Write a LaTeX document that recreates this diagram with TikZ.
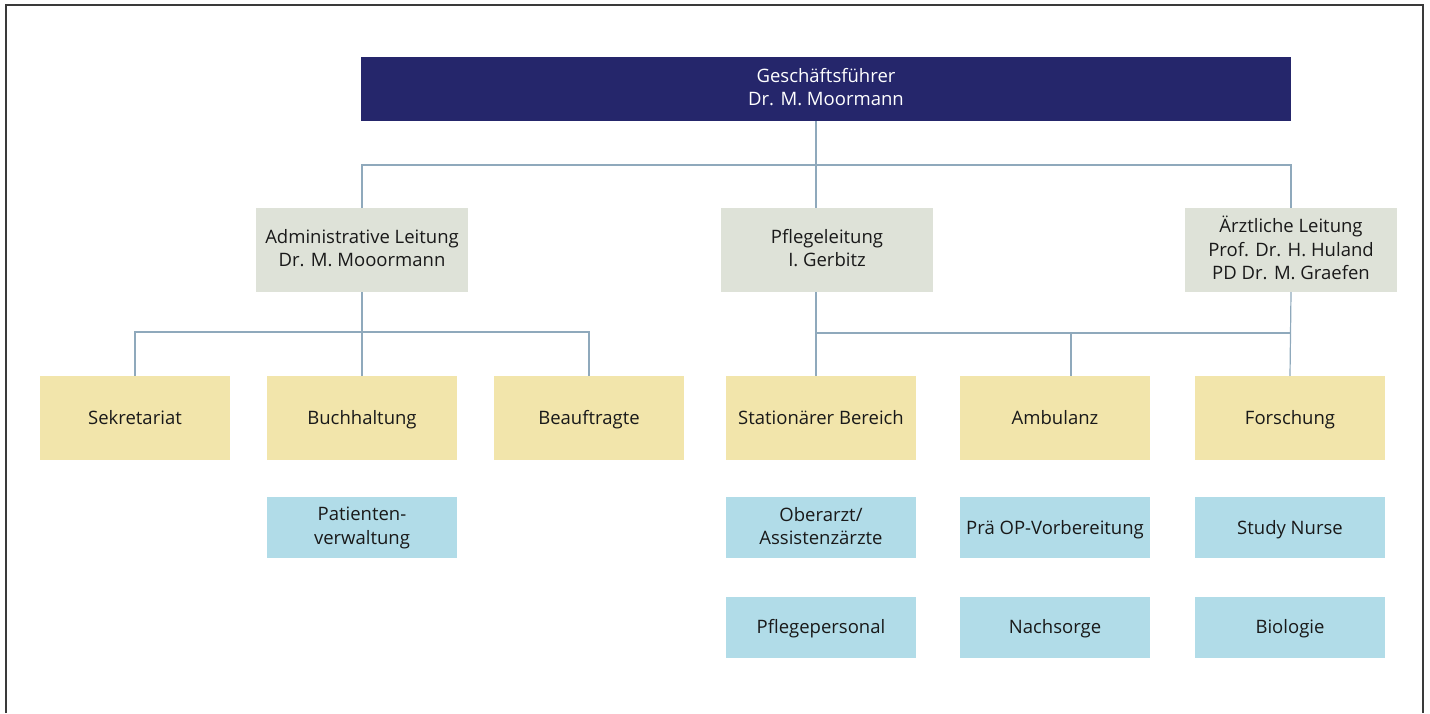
\documentclass[tikz,border=0pt]{standalone}
\usepackage{fontspec}
\setmainfont{Open Sans}
\usetikzlibrary{positioning}
\definecolor{headfill}{HTML}{25266B}
\definecolor{leadfill}{HTML}{DEE2D8}
\definecolor{unitfill}{HTML}{F2E5AB}
\definecolor{subfill}{HTML}{B1DCE8}
\definecolor{linkcol}{HTML}{8FA9BC}
\definecolor{framecol}{HTML}{3A3A3A}
\newcommand{\boxstrut}{\rule[-4pt]{0pt}{21pt}}

\begin{document}
\begin{tikzpicture}[x=1pt, y=-1pt,
  box/.style={inner sep=0pt, align=center, text=black!90,
              execute at begin node=\boxstrut, execute at end node=\boxstrut,
              font=\fontsize{18.5}{23.5}\selectfont},
  headbox/.style={box, fill=headfill, text=white, minimum width=930pt, minimum height=64pt},
  leadbox/.style={box, fill=leadfill, minimum width=212pt, minimum height=84pt},
  unitbox/.style={box, fill=unitfill, minimum width=190pt, minimum height=84pt},
  subbox/.style={box, fill=subfill, minimum width=190pt, minimum height=61pt},
  link/.style={draw=linkcol, line width=1.2pt}
]
  \useasboundingbox (0,0) rectangle (1430,713);
  \draw[framecol, line width=1.5pt] (6,713) -- (6,5) -- (1423,5) -- (1423,713);

  % top and management level
  \node[headbox] (gf)     at (826,89)  {Geschäftsführer\\Dr. M. Moormann};
  \node[leadbox] (admin)  at (362,250) {Administrative Leitung\\Dr. M. Mooormann};
  \node[leadbox] (pflege) at (827,250) {Pflegeleitung\\I. Gerbitz};
  \node[leadbox] (aerzt)  at (1291,250) {Ärztliche Leitung\\Prof. Dr. H. Huland\\PD Dr. M. Graefen};

  % departments
  \node[unitbox] (sek)    at (135,418)  {Sekretariat};
  \node[unitbox] (buch)   at (362,418)  {Buchhaltung};
  \node[unitbox] (beauf)  at (589,418)  {Beauftragte};
  \node[unitbox] (stat)   at (821,418)  {Stationärer Bereich};
  \node[unitbox] (amb)    at (1055,418) {Ambulanz};
  \node[unitbox] (forsch) at (1290,418) {Forschung};

  % sub units
  \node[subbox, below=37pt of buch]   (patv)  {Patienten-\\verwaltung};
  \node[subbox, below=37pt of stat]   (ober)  {Oberarzt/\\Assistenzärzte};
  \node[subbox, below=38pt of ober]   (pflp)  {Pflegepersonal};
  \node[subbox, below=37pt of amb]    (praeop){Prä OP-Vorbereitung};
  \node[subbox, below=38pt of praeop] (nach)  {Nachsorge};
  \node[subbox, below=37pt of forsch] (study) {Study Nurse};
  \node[subbox, below=38pt of study]  (bio)   {Biologie};

  % bus lines
  \coordinate (trunk)   at (816,0);
  \coordinate (ambdrop) at (1071,0);
  \coordinate (bustop)  at (0,165);
  \coordinate (busadm)  at (0,332);
  \coordinate (buspfl)  at (0,333);

  \draw[link] (gf.south -| trunk) -- (pflege.north -| trunk);
  \draw[link] (admin.north) -- (admin.north |- bustop) -- (aerzt.north |- bustop) -- (aerzt.north);

  \draw[link] (admin.south) -- (buch.north);
  \draw[link] (sek.north) -- (sek.north |- busadm) -- (beauf.north |- busadm) -- (beauf.north);

  \draw[link] (pflege.south -| trunk) -- (stat.north -| trunk);
  \draw[link] (aerzt.south) -- (forsch.north);
  \draw[link] (trunk |- buspfl) -- (aerzt.south |- buspfl);
  \draw[link] (amb.north -| ambdrop) -- (ambdrop |- buspfl);
\end{tikzpicture}
\end{document}
